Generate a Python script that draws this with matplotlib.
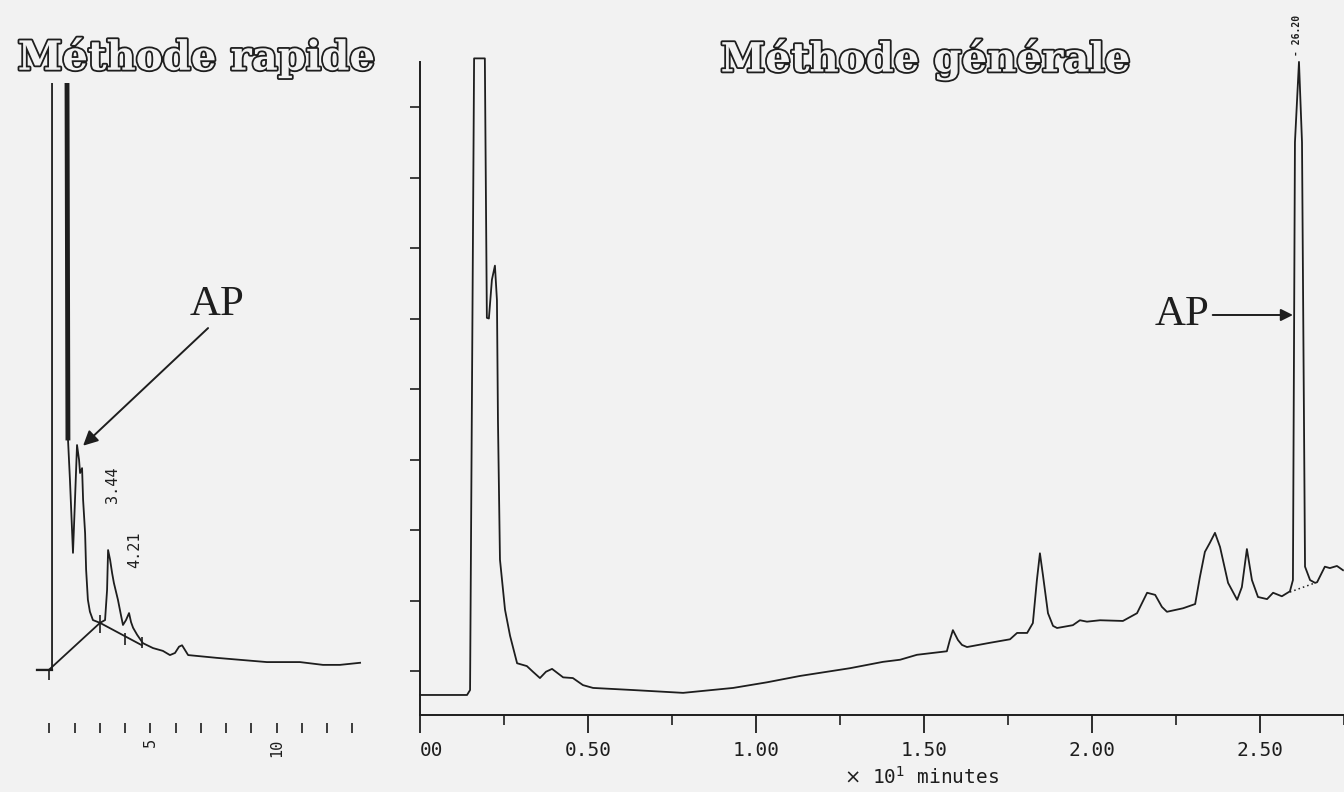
import numpy as np
import matplotlib.pyplot as plt
import matplotlib.patheffects as pe

# Méthode rapide : temps (min) et signal (unités arbitraires)
rapide_t = [0.51, 1.11, 1.11, 1.70, 1.74, 1.82, 1.94, 2.02, 2.10, 2.18, 2.22, 2.30, 2.34,
            2.42, 2.46, 2.53, 2.61, 2.73, 3.01, 3.21, 3.29, 3.33, 3.41, 3.49, 3.56, 3.60,
            3.72, 3.84, 3.92, 4.04, 4.16, 4.24, 4.32, 4.48, 4.71, 5.11, 5.50, 5.78, 5.98,
            6.14, 6.26, 6.38, 6.50, 7.64, 9.62, 10.93, 11.84, 12.51, 13.31]
rapide_s = [0.76, 0.76, 9.60, 9.60, 4.07, 3.47, 2.43, 3.19, 3.97, 3.76, 3.57, 3.64, 3.19,
            2.71, 2.19, 1.76, 1.59, 1.47, 1.43, 1.47, 1.90, 2.47, 2.33, 2.14, 2.00, 1.94,
            1.76, 1.54, 1.40, 1.47, 1.57, 1.44, 1.36, 1.26, 1.14, 1.07, 1.03, 0.97, 1.00,
            1.09, 1.11, 1.04, 0.97, 0.93, 0.87, 0.87, 0.83, 0.83, 0.86]
# ligne de base tracée par l'intégrateur
rapide_base_t = [0.99, 3.01, 4.67]
rapide_base_s = [0.76, 1.43, 1.11]
rapide_marks_t = [0.99, 3.01, 4.00, 4.67]
rapide_marks_lo = [0.61, 1.29, 1.11, 1.07]
rapide_marks_hi = [0.76, 1.54, 1.29, 1.23]
rapide_labels = ["3.44", "4.21"]
rapide_label_t = [3.49, 4.40]
rapide_label_s = [3.40, 2.47]

# Méthode générale : temps (x 10 min) et signal
gen_t = [0.000, 0.140, 0.149, 0.161, 0.193, 0.199, 0.205, 0.214, 0.223, 0.229, 0.232,
         0.238, 0.253, 0.268, 0.289, 0.318, 0.336, 0.357, 0.375, 0.393, 0.426, 0.455,
         0.485, 0.515, 0.634, 0.783, 0.932, 1.033, 1.131, 1.280, 1.378, 1.429, 1.479,
         1.568, 1.577, 1.586, 1.601, 1.613, 1.628, 1.696, 1.756, 1.777, 1.807, 1.824,
         1.836, 1.845, 1.854, 1.869, 1.884, 1.896, 1.943, 1.964, 1.985, 2.024, 2.092,
         2.134, 2.164, 2.188, 2.208, 2.223, 2.271, 2.307, 2.321, 2.336, 2.351, 2.366,
         2.381, 2.405, 2.432, 2.446, 2.461, 2.476, 2.494, 2.521, 2.539, 2.565, 2.589,
         2.598, 2.604, 2.616, 2.625, 2.634, 2.649, 2.664, 2.670, 2.693, 2.708, 2.729, 2.747]
gen_s = [0.66, 0.66, 0.73, 9.69, 9.69, 6.01, 6.00, 6.55, 6.75, 6.26, 4.56,
         2.58, 1.87, 1.50, 1.11, 1.07, 0.99, 0.90, 0.99, 1.03, 0.91, 0.90,
         0.80, 0.76, 0.73, 0.69, 0.76, 0.84, 0.93, 1.04, 1.13, 1.16, 1.23,
         1.28, 1.44, 1.58, 1.44, 1.37, 1.34, 1.40, 1.45, 1.54, 1.54, 1.68,
         2.29, 2.67, 2.36, 1.82, 1.64, 1.61, 1.65, 1.72, 1.70, 1.72, 1.71,
         1.82, 2.11, 2.08, 1.91, 1.84, 1.89, 1.95, 2.33, 2.69, 2.82, 2.96,
         2.76, 2.25, 2.01, 2.19, 2.73, 2.29, 2.05, 2.02, 2.11, 2.06, 2.13,
         2.29, 8.50, 9.64, 8.50, 2.48, 2.29, 2.25, 2.26, 2.48, 2.46, 2.49, 2.43]
gen_base_t = [2.589, 2.664]
gen_base_s = [2.12, 2.25]
gen_ticks = [0.0, 0.5, 1.0, 1.5, 2.0, 2.5]
gen_ticklabels = ["00", "0.50", "1.00", "1.50", "2.00", "2.50"]
rapide_ticks = list(range(1, 14))

paper = "#f2f2f2"
ink = "#1e1e1e"
mono = "DejaVu Sans Mono"

fig = plt.figure(figsize=(13.44, 7.92), dpi=100, facecolor=paper)


def outline_title(x, y, s):
    t = fig.text(x, y, s, ha="center", va="center", fontsize=29, fontweight="bold",
                 family="DejaVu Serif", color=paper)
    t.set_path_effects([pe.Stroke(linewidth=2.6, foreground=ink), pe.Normal()])


# --- Méthode rapide ---
ax1 = fig.add_axes([24 / 1344, 69 / 792, 343.4 / 1344, 640 / 792])
ax1.set_facecolor("none")
ax1.set_xlim(0, 13.6)
ax1.set_ylim(0, 9.14)
ax1.plot(rapide_t, rapide_s, color=ink, lw=1.3)
ax1.plot(rapide_t[3:5], rapide_s[3:5], color=ink, lw=3.5)
ax1.plot([0.51, 1.11], [0.76, 0.76], color=ink, lw=1.6)
ax1.plot(rapide_base_t, rapide_base_s, color=ink, lw=1.3)
ax1.vlines(rapide_marks_t, rapide_marks_lo, rapide_marks_hi, color=ink, lw=1.2)
for lab, t, s in zip(rapide_labels, rapide_label_t, rapide_label_s):
    ax1.text(t, s, lab, rotation=90, ha="center", va="center", fontsize=11,
             family=mono, color=ink)
ax1.annotate("", xy=(2.34, 3.96), xytext=(7.29, 5.64),
             arrowprops=dict(arrowstyle="-|>", color=ink, lw=1.4,
                             mutation_scale=22, shrinkA=0, shrinkB=0))
ax1.text(7.65, 5.97, "AP", color=ink, fontsize=31, family="Liberation Serif",
         ha="center", va="center")
for sp in ax1.spines.values():
    sp.set_visible(False)
ax1.set_yticks([])
ax1.set_xticks(rapide_ticks)
ax1.set_xticklabels(["5" if v == 5 else "10" if v == 10 else "" for v in rapide_ticks],
                    rotation=90, family=mono, fontsize=11)
ax1.tick_params(axis="x", length=7, width=1.2, color=ink, labelcolor=ink, pad=4)

# --- Méthode générale ---
ax2 = fig.add_axes([420 / 1344, 77 / 792, 924 / 1344, 660 / 792])
ax2.set_facecolor("none")
ax2.set_xlim(0, 2.75)
ax2.set_ylim(0.376, 9.738)
ax2.plot(gen_t, gen_s, color=ink, lw=1.3, clip_on=False)
ax2.plot(gen_base_t, gen_base_s, color=ink, lw=1.1, ls=(0, (1, 2)))
ax2.spines["top"].set_visible(False)
ax2.spines["right"].set_visible(False)
ax2.spines["left"].set_bounds(0.376, 9.64)
for side in ("left", "bottom"):
    ax2.spines[side].set_linewidth(1.4)
    ax2.spines[side].set_color(ink)
ax2.set_yticks(range(1, 10))
ax2.set_yticklabels([])
ax2.tick_params(axis="y", length=7, width=1.2, color=ink)
ax2.set_xticks(gen_ticks)
ax2.set_xticks(np.arange(0.25, 2.8, 0.5), minor=True)
ax2.set_xticklabels(gen_ticklabels, family=mono, fontsize=14, color=ink)
ax2.get_xticklabels()[0].set_ha("left")
ax2.tick_params(axis="x", which="major", length=13, width=1.3, color=ink, pad=6)
ax2.tick_params(axis="x", which="minor", length=7, width=1.2, color=ink)
fig.text(922 / 1344, 4 / 792, r"$\times$ 10$^1$ minutes", family=mono, fontsize=14,
         color=ink, ha="center", va="bottom")
ax2.annotate("AP", xy=(2.598, 6.05), xytext=(2.351, 6.05), color=ink,
             fontsize=31, family="Liberation Serif", ha="right", va="center",
             arrowprops=dict(arrowstyle="-|>", color=ink, lw=1.4,
                             mutation_scale=18, shrinkA=0, shrinkB=0))
ax2.text(2.610, 9.72, "- 26.20", rotation=90, ha="center", va="bottom",
         fontsize=7, family=mono, color=ink, fontweight="bold")

outline_title(196 / 1344, 1 - 58 / 792, "Méthode rapide")
outline_title(925 / 1344, 1 - 60 / 792, "Méthode générale")

fig.savefig("out.png", dpi=100, facecolor=paper)
